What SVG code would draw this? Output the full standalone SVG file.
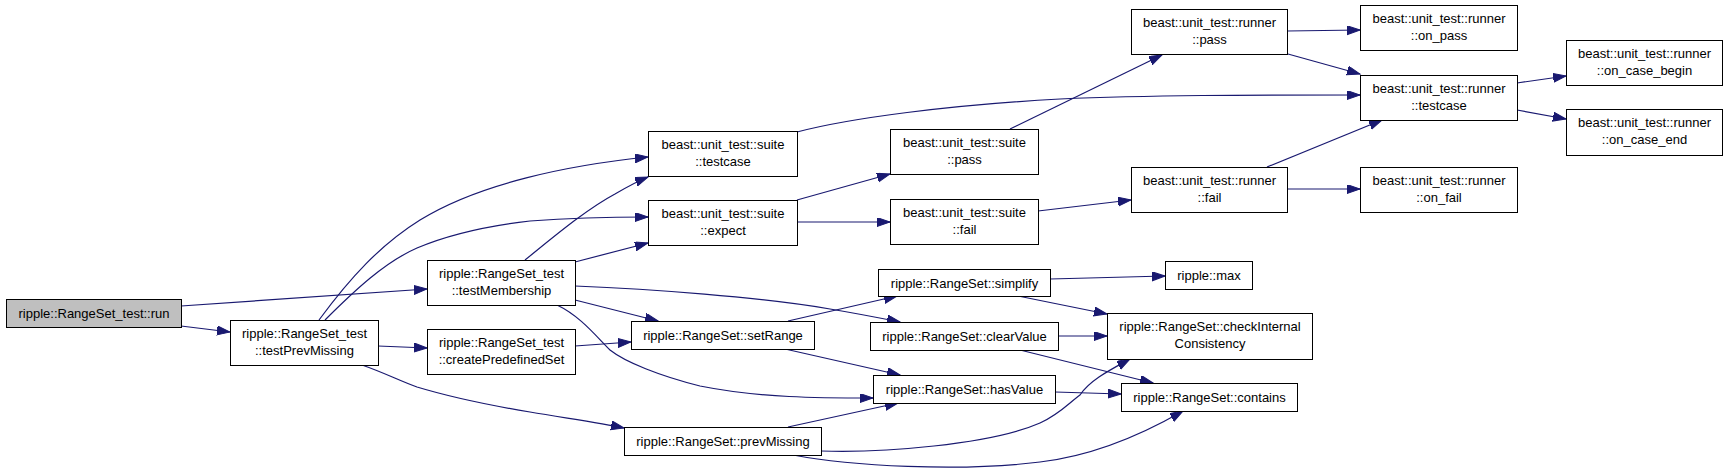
<svg xmlns="http://www.w3.org/2000/svg" width="1728" height="475" viewBox="0 0 1728 475">
<style>
.n rect{fill:#ffffff;stroke:#000000;stroke-width:1}
.n.root rect{fill:#bfbfbf}
.n text{font-family:"Liberation Sans",Arial,sans-serif;font-size:13px;fill:#000000;text-anchor:middle}
.e path{fill:none;stroke:#191970;stroke-width:1.2;marker-end:url(#arr)}
</style>
<defs>
<marker id="arr" markerUnits="userSpaceOnUse" markerWidth="14" markerHeight="10" refX="13" refY="4.5" orient="auto">
<path d="M0,0 L13,4.5 L0,9 Z" fill="#191970" stroke="#191970" stroke-width="1"/>
</marker>
</defs>
<rect x="0" y="0" width="1728" height="475" fill="#ffffff"/>
<g id="connectors" class="e">
<path d="M181,306 L427,289"/>
<path d="M181,326 L230,332"/>
<path d="M378,346 L427,348"/>
<path d="M319,320 C350,278 380,245 420,220 C480,183 570,165 648,157"/>
<path d="M325,320 C355,290 385,262 417,248 C455,232 495,225 530,221 C570,218 610,217 648,217"/>
<path d="M525,260 C550,240 585,210 615,194 C627,187 638,181 648,177"/>
<path d="M575,262 L648,243"/>
<path d="M575,300 L658,321"/>
<path d="M575,286 C650,289 760,297 830,309 C860,314 880,318 900,322"/>
<path d="M557,305 C580,316 595,335 610,350 C625,362 660,376 700,386 C760,398 820,398 873,398"/>
<path d="M788,321 L897,296"/>
<path d="M785,349 L900,375"/>
<path d="M575,346 L631,342"/>
<path d="M362,365 C385,373 400,381 417,387 C460,400 500,407 530,412 C565,418 600,423 624,428"/>
<path d="M788,427 L898,403"/>
<path d="M797,200 L890,174"/>
<path d="M797,222 L890,222"/>
<path d="M797,132 C850,118 950,105 1060,99 C1150,95 1250,95 1360,95"/>
<path d="M1010,129 L1162,55"/>
<path d="M1038,211 L1131,200"/>
<path d="M1287,31 L1360,30"/>
<path d="M1288,54 L1360,74"/>
<path d="M1267,167 L1382,120"/>
<path d="M1287,189 L1360,189"/>
<path d="M1517,83 L1566,76"/>
<path d="M1517,110 L1566,119"/>
<path d="M1050,279 L1165,276"/>
<path d="M1018,296 L1107,314"/>
<path d="M1058,336 L1107,336"/>
<path d="M1020,350 L1153,383"/>
<path d="M1055,392 L1121,394"/>
<path d="M821,451 C880,453 990,445 1040,423 C1060,414 1070,402 1080,395 C1090,380 1110,370 1130,359"/>
<path d="M793,455 C850,466 960,472 1040,462 C1100,455 1150,430 1183,411"/>
</g>
<g id="n-run" class="n root"><rect x="6.5" y="299.5" width="175" height="28"/><text x="94" y="318">ripple::RangeSet_test::run</text></g>
<g id="n-testPrevMissing" class="n"><rect x="230.5" y="320.5" width="148" height="45"/><text x="304.5" y="337.5">ripple::RangeSet_test</text><text x="304.5" y="355">::testPrevMissing</text></g>
<g id="n-testMembership" class="n"><rect x="427.5" y="260.5" width="148" height="45"/><text x="501.5" y="277.5">ripple::RangeSet_test</text><text x="501.5" y="295">::testMembership</text></g>
<g id="n-createPredefinedSet" class="n"><rect x="427.5" y="329.5" width="148" height="45"/><text x="501.5" y="346.5">ripple::RangeSet_test</text><text x="501.5" y="364">::createPredefinedSet</text></g>
<g id="n-suite-testcase" class="n"><rect x="648.5" y="131.5" width="149" height="45"/><text x="723" y="148.5">beast::unit_test::suite</text><text x="723" y="166">::testcase</text></g>
<g id="n-suite-expect" class="n"><rect x="648.5" y="200.5" width="149" height="45"/><text x="723" y="217.5">beast::unit_test::suite</text><text x="723" y="235">::expect</text></g>
<g id="n-suite-pass" class="n"><rect x="890.5" y="129.5" width="148" height="45"/><text x="964.5" y="146.5">beast::unit_test::suite</text><text x="964.5" y="164">::pass</text></g>
<g id="n-suite-fail" class="n"><rect x="890.5" y="199.5" width="148" height="45"/><text x="964.5" y="216.5">beast::unit_test::suite</text><text x="964.5" y="234">::fail</text></g>
<g id="n-runner-pass" class="n"><rect x="1131.5" y="9.5" width="156" height="45"/><text x="1209.5" y="26.5">beast::unit_test::runner</text><text x="1209.5" y="44">::pass</text></g>
<g id="n-runner-on_pass" class="n"><rect x="1360.5" y="5.5" width="157" height="45"/><text x="1439" y="22.5">beast::unit_test::runner</text><text x="1439" y="40">::on_pass</text></g>
<g id="n-runner-testcase" class="n"><rect x="1360.5" y="75.5" width="157" height="45"/><text x="1439" y="92.5">beast::unit_test::runner</text><text x="1439" y="110">::testcase</text></g>
<g id="n-runner-on_case_begin" class="n"><rect x="1566.5" y="40.5" width="156" height="45"/><text x="1644.5" y="57.5">beast::unit_test::runner</text><text x="1644.5" y="75">::on_case_begin</text></g>
<g id="n-runner-on_case_end" class="n"><rect x="1566.5" y="109.5" width="156" height="46"/><text x="1644.5" y="126.5">beast::unit_test::runner</text><text x="1644.5" y="144">::on_case_end</text></g>
<g id="n-runner-fail" class="n"><rect x="1131.5" y="167.5" width="156" height="45"/><text x="1209.5" y="184.5">beast::unit_test::runner</text><text x="1209.5" y="202">::fail</text></g>
<g id="n-runner-on_fail" class="n"><rect x="1360.5" y="167.5" width="157" height="45"/><text x="1439" y="184.5">beast::unit_test::runner</text><text x="1439" y="202">::on_fail</text></g>
<g id="n-setRange" class="n"><rect x="631.5" y="321.5" width="183" height="28"/><text x="723" y="339.5">ripple::RangeSet::setRange</text></g>
<g id="n-simplify" class="n"><rect x="878.5" y="269.5" width="172" height="27"/><text x="964.5" y="287.5">ripple::RangeSet::simplify</text></g>
<g id="n-clearValue" class="n"><rect x="870.5" y="322.5" width="188" height="28"/><text x="964.5" y="340.5">ripple::RangeSet::clearValue</text></g>
<g id="n-hasValue" class="n"><rect x="873.5" y="375.5" width="182" height="28"/><text x="964.5" y="393.5">ripple::RangeSet::hasValue</text></g>
<g id="n-prevMissing" class="n"><rect x="624.5" y="427.5" width="197" height="28"/><text x="723" y="445.5">ripple::RangeSet::prevMissing</text></g>
<g id="n-max" class="n"><rect x="1165.5" y="261.5" width="87" height="28"/><text x="1209" y="279.5">ripple::max</text></g>
<g id="n-checkInternalConsistency" class="n"><rect x="1107.5" y="313.5" width="205" height="46"/><text x="1210" y="330.5">ripple::RangeSet::checkInternal</text><text x="1210" y="348">Consistency</text></g>
<g id="n-contains" class="n"><rect x="1121.5" y="383.5" width="176" height="28"/><text x="1209.5" y="401.5">ripple::RangeSet::contains</text></g>
</svg>
